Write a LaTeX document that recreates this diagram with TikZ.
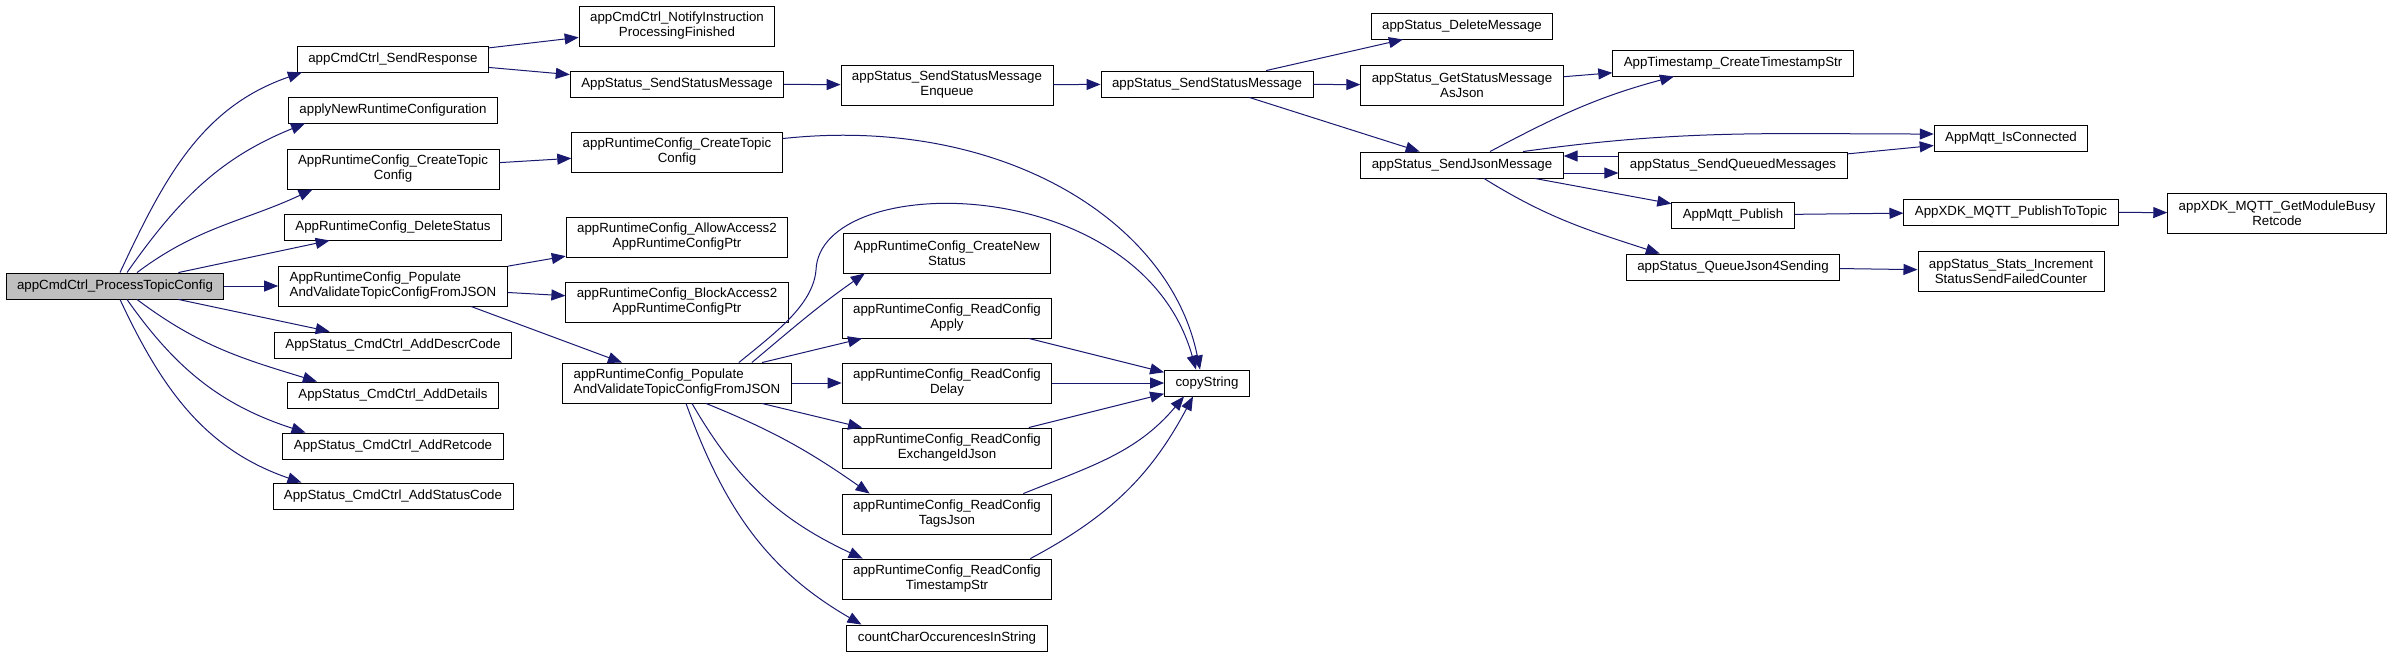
\documentclass[tikz,border=0pt]{standalone}
\usepackage{fontspec}
\setmainfont{Liberation Sans}
\usetikzlibrary{arrows.meta}

\definecolor{edgeblue}{HTML}{191970}
\newcommand{\fnfont}{\fontsize{13.3}{15}\selectfont}

\begin{document}
\begin{tikzpicture}[
        x=1pt,   % 1 px of the call graph = 1pt
        y=-1pt,  % rows counted downwards
        fn/.style={draw=black, line width=0.9pt, fill=white, font=\fnfont,
            inner xsep=11pt, inner ysep=2pt, minimum height=26pt},
        fntwo/.style={fn, align=center, minimum height=40pt},
        fnleft/.style={fn, align=left, minimum height=40pt},
        rootfn/.style={fn, fill=gray!50},
        call/.style={draw=edgeblue, line width=1pt,
            -{Triangle[length=14pt, width=11pt]}},
    ]

    \useasboundingbox (0,0) rectangle (2392,657);

    % Caller
    \node[rootfn] (root) at (115,286) {appCmdCtrl\_ProcessTopicConfig};

    % Level 1
    \node[fn] (sendresp) at (393,59) {appCmdCtrl\_SendResponse};
    \node[fn] (applynew) at (393,110) {applyNewRuntimeConfiguration};
    \node[fntwo] (createtopic) at (393,169) {AppRuntimeConfig\_CreateTopic\\Config};
    \node[fn] (deletestatus) at (393,227) {AppRuntimeConfig\_DeleteStatus};
    \node[fnleft] (populate) at (393,286) {AppRuntimeConfig\_Populate\\AndValidateTopicConfigFromJSON};
    \node[fn] (adddescr) at (393,345) {AppStatus\_CmdCtrl\_AddDescrCode};
    \node[fn] (adddetails) at (393,395) {AppStatus\_CmdCtrl\_AddDetails};
    \node[fn] (addretcode) at (393,446) {AppStatus\_CmdCtrl\_AddRetcode};
    \node[fn] (addstatus) at (393,496) {AppStatus\_CmdCtrl\_AddStatusCode};

    % Level 2
    \node[fntwo] (notify) at (677,26) {appCmdCtrl\_NotifyInstruction\\ProcessingFinished};
    \node[fn] (sendstatus) at (677,84) {AppStatus\_SendStatusMessage};
    \node[fntwo] (createtopiclow) at (677,152) {appRuntimeConfig\_CreateTopic\\Config};
    \node[fntwo] (allow) at (677,237) {appRuntimeConfig\_AllowAccess2\\AppRuntimeConfigPtr};
    \node[fntwo] (block) at (677,302) {appRuntimeConfig\_BlockAccess2\\AppRuntimeConfigPtr};
    \node[fnleft] (populatelow) at (677,383) {appRuntimeConfig\_Populate\\AndValidateTopicConfigFromJSON};

    % Level 3
    \node[fntwo] (enqueue) at (947,85) {appStatus\_SendStatusMessage\\Enqueue};
    \node[fntwo] (createnew) at (947,253) {AppRuntimeConfig\_CreateNew\\Status};
    \node[fntwo] (readapply) at (947,318) {appRuntimeConfig\_ReadConfig\\Apply};
    \node[fntwo] (readdelay) at (947,383) {appRuntimeConfig\_ReadConfig\\Delay};
    \node[fntwo] (readexch) at (947,448) {appRuntimeConfig\_ReadConfig\\ExchangeIdJson};
    \node[fntwo] (readtags) at (947,514) {appRuntimeConfig\_ReadConfig\\TagsJson};
    \node[fntwo] (readts) at (947,579) {appRuntimeConfig\_ReadConfig\\TimestampStr};
    \node[fn] (countchar) at (947,638) {countCharOccurencesInString};

    % Level 4
    \node[fn] (sendstatuslow) at (1207,84) {appStatus\_SendStatusMessage};
    \node[fn] (copystr) at (1207,383) {copyString};

    % Level 5
    \node[fn] (deletemsg) at (1462,26) {appStatus\_DeleteMessage};
    \node[fntwo] (getjson) at (1462,85) {appStatus\_GetStatusMessage\\AsJson};
    \node[fn] (sendjson) at (1462,165) {appStatus\_SendJsonMessage};

    % Level 6
    \node[fn] (timestamp) at (1733,63) {AppTimestamp\_CreateTimestampStr};
    \node[fn] (sendqueued) at (1733,165) {appStatus\_SendQueuedMessages};
    \node[fn] (publish) at (1733,215) {AppMqtt\_Publish};
    \node[fn] (queuejson) at (1733,267) {appStatus\_QueueJson4Sending};

    % Level 7 and 8
    \node[fn] (isconn) at (2011,138) {AppMqtt\_IsConnected};
    \node[fn] (publishtopic) at (2011,212) {AppXDK\_MQTT\_PublishToTopic};
    \node[fntwo] (stats) at (2011,271) {appStatus\_Stats\_Increment\\StatusSendFailedCounter};
    \node[fntwo] (busy) at (2277,213) {appXDK\_MQTT\_GetModuleBusy\\Retcode};

    % Straight calls, centre to centre
    \foreach \src/\dst in {root/deletestatus, root/populate, root/adddescr,
            sendresp/notify, sendresp/sendstatus, createtopic/createtopiclow,
            populate/allow, populate/block, sendstatus/enqueue, enqueue/sendstatuslow,
            populatelow/readapply, populatelow/readdelay, populatelow/readexch,
            readapply/copystr, readdelay/copystr, readexch/copystr,
            sendstatuslow/deletemsg, sendstatuslow/getjson, sendstatuslow/sendjson,
            getjson/timestamp, sendjson/publish, sendqueued/isconn,
            publish/publishtopic, publishtopic/busy, queuejson/stats}
        \draw[call] (\src) -- (\dst);

    \draw[call] ([xshift=78pt]populate.south) -- (populatelow);

    % Curved calls out of the caller
    \draw[call] ([xshift=5pt]root.north) to[out=65,in=199] ([xshift=5pt]sendresp.south west);
    \draw[call] ([xshift=12pt]root.north) to[out=55,in=202] ([xshift=17pt]applynew.south west);
    \draw[call] ([xshift=22pt]root.north) to[out=37,in=205] ([xshift=26pt]createtopic.south west);
    \draw[call] ([xshift=22pt]root.south) to[out=-37,in=163] ([xshift=30pt]adddetails.north west);
    \draw[call] ([xshift=12pt]root.south) to[out=-55,in=162] ([xshift=23pt]addretcode.north west);
    \draw[call] ([xshift=5pt]root.south) to[out=-65,in=161] ([xshift=29pt]addstatus.north west);

    % Calls into copyString
    \draw[call] ([yshift=-7pt]createtopiclow.north east)
        .. controls (1000,115) and (1170,220) .. ([xshift=-7pt]copystr.north);
    \draw[call] ([xshift=-53pt]populatelow.north east)
        .. controls (775,333) and (813,305) .. (816,270)
        .. controls (820,170) and (1140,170) .. ([xshift=-11pt]copystr.north);
    \draw[call] ([xshift=-29pt]readtags.north east) to[out=22,in=230] ([xshift=-23pt]copystr.south);
    \draw[call] ([xshift=-22pt]readts.north east) to[out=28,in=242] ([xshift=-14pt]copystr.south);

    % Other calls of the lower populate function
    \draw[call] ([xshift=-40pt]populatelow.north east) to[out=40,in=215] ([xshift=22pt]createnew.south west);
    \draw[call] ([xshift=29pt]populatelow.south) to[out=-22,in=145] ([xshift=28pt]readtags.north west);
    \draw[call] ([xshift=15pt]populatelow.south) to[out=-60,in=155] ([xshift=21pt]readts.north west);
    \draw[call] ([xshift=9pt]populatelow.south) to[out=-70,in=150] ([xshift=15pt]countchar.north west);

    % Calls of the json sender
    \draw[call] ([xshift=28pt]sendjson.north) to[out=28,in=195] ([xshift=-59pt]timestamp.south);
    \draw[call] ([xshift=61pt]sendjson.north) to[out=8,in=180] ([yshift=4pt]isconn.west);
    \draw[call] ([xshift=22pt]sendjson.south) to[out=-32,in=162] ([xshift=34pt]queuejson.north west);
    \draw[call] ([yshift=-8pt]sendjson.east) -- ([yshift=-8pt]sendqueued.west);
    \draw[call] ([yshift=9pt]sendqueued.west) -- ([yshift=9pt]sendjson.east);

\end{tikzpicture}
\end{document}
